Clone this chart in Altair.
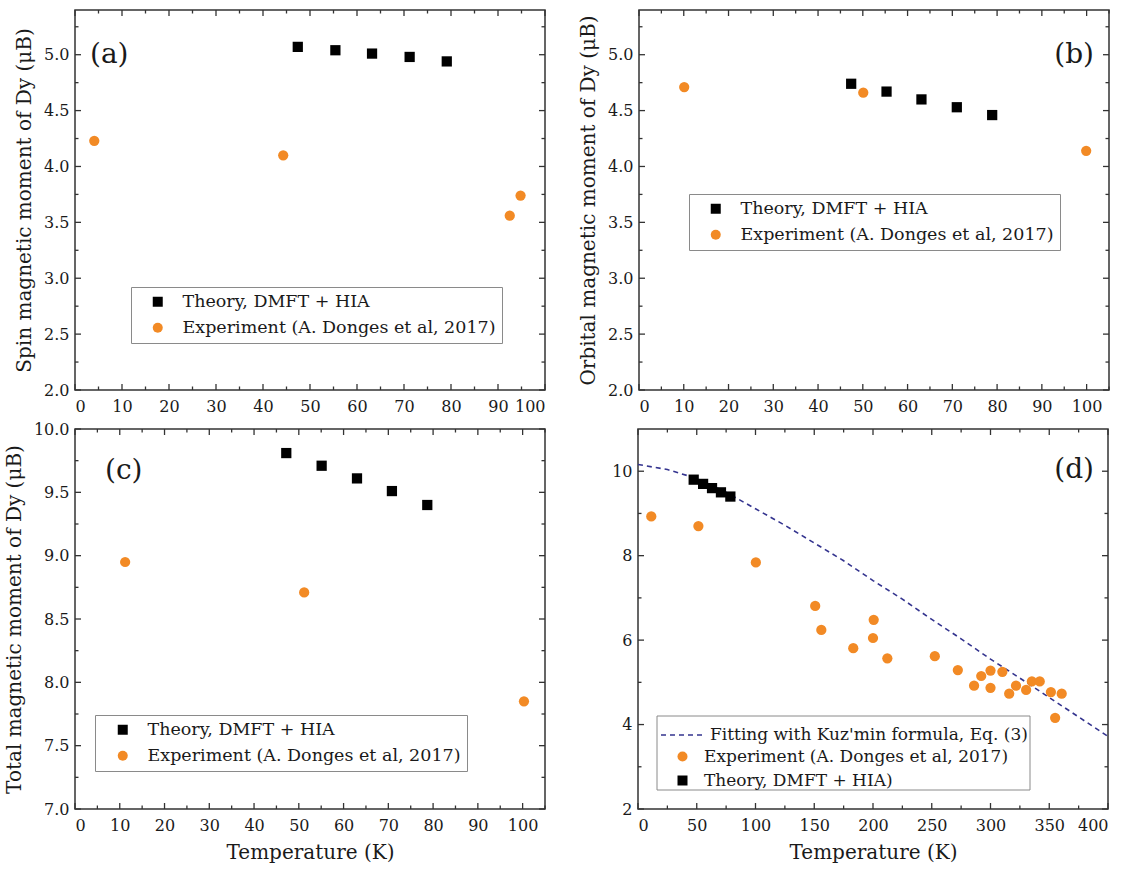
import altair as alt
import pandas as pd

FONT = "DejaVu Serif"
ORANGE = "#F28A25"
NAVY = "#34348F"
AXC = "#333333"
TXT = "#1a1a1a"
BOX = "#8a8a8a"

THEORY = "Theory, DMFT + HIA"
THEORY_D = "Theory, DMFT + HIA)"
EXP = "Experiment (A. Donges et al, 2017)"
FIT = "Fitting with Kuz'min formula, Eq. (3)"

# ---- panel (a): spin moment ----
a_theory_T = [47.4, 55.4, 63.2, 71.2, 79.1]
a_theory_M = [5.07, 5.04, 5.01, 4.98, 4.94]
a_exp_T = [4.1, 44.3, 92.5, 94.8]
a_exp_M = [4.23, 4.10, 3.56, 3.74]

# ---- panel (b): orbital moment ----
b_theory_T = [47.4, 55.3, 63.1, 71.0, 78.9]
b_theory_M = [4.74, 4.67, 4.60, 4.53, 4.46]
b_exp_T = [10.1, 50.1, 99.9]
b_exp_M = [4.71, 4.66, 4.14]

# ---- panel (c): total moment ----
c_theory_T = [47.2, 55.1, 63.0, 70.8, 78.7]
c_theory_M = [9.81, 9.71, 9.61, 9.51, 9.40]
c_exp_T = [11.2, 51.2, 100.3]
c_exp_M = [8.95, 8.71, 7.85]

# ---- panel (d): total moment vs T, wide range ----
d_theory_T = [47.4, 55.4, 63.0, 70.6, 78.6]
d_theory_M = [9.80, 9.70, 9.60, 9.50, 9.40]
d_exp_T = [11.3, 51.4, 100.3, 150.8, 156.0, 183.2, 200.6, 200.0, 212.2, 252.6,
           272.2, 286.0, 292.1, 300.0, 300.0, 310.1, 315.9, 321.7, 330.3, 335.2,
           341.9, 351.4, 360.6, 355.0]
d_exp_M = [8.93, 8.70, 7.84, 6.81, 6.24, 5.81, 6.48, 6.05, 5.57, 5.62,
           5.29, 4.92, 5.15, 5.28, 4.87, 5.25, 4.73, 4.92, 4.82, 5.02,
           5.02, 4.77, 4.73, 4.16]
d_fit_T = [0, 25, 50, 75, 100, 125, 150, 175, 200, 225, 250, 275, 300, 325, 350, 375, 400]
d_fit_M = [10.16, 10.04, 9.83, 9.50, 9.11, 8.72, 8.30, 7.88, 7.41, 6.97, 6.49, 6.03,
           5.55, 5.10, 4.64, 4.18, 3.72]

# ---- axis ticks ----
x100_major = [0, 10, 20, 30, 40, 50, 60, 70, 80, 90, 100]
x100_minor = [5, 15, 25, 35, 45, 55, 65, 75, 85, 95]
x105_minor = [5, 15, 25, 35, 45, 55, 65, 75, 85, 95, 105]
x400_major = [0, 50, 100, 150, 200, 250, 300, 350, 400]
x400_minor = [25, 75, 125, 175, 225, 275, 325, 375]
y_ab_major = [2.0, 2.5, 3.0, 3.5, 4.0, 4.5, 5.0]
y_ab_minor = [2.25, 2.75, 3.25, 3.75, 4.25, 4.75, 5.25]
y_c_major = [7.0, 7.5, 8.0, 8.5, 9.0, 9.5, 10.0]
y_c_minor = [7.25, 7.75, 8.25, 8.75, 9.25, 9.75]
y_d_major = [2, 4, 6, 8, 10]
y_d_minor = [3, 5, 7, 9]

W, H = 470, 380
MAJ, MIN = 6, 3.5
IND = dict(color="independent", shape="independent", strokeDash="independent")


def make_legend(x, y, pad, row, so, lo, stroke=BOX, size=None, fs=17.5):
    kw = dict(orient="none", legendX=x, legendY=y, title=None, padding=pad,
              rowPadding=row, symbolOffset=so, labelOffset=lo,
              labelFont=FONT, labelFontSize=fs, labelColor=TXT, labelLimit=600)
    if stroke:
        kw["strokeColor"] = stroke
        kw["fillColor"] = "white"
    if size:
        kw["symbolSize"] = size
    return alt.Legend(**kw)


def panel(series, dom, shapes, colors, xdom, xmaj, xmin, ydom, ymaj, ymin,
          yfmt, ytitle, xtitle, legend, label, lab_x, lab_y, lab_align,
          fit=None, fit_legend=None, box=None):
    rows = []
    for name, T, M in series:
        for t, m in zip(T, M):
            rows.append({"T": t, "M": m, "s": name})
    df = pd.DataFrame(rows)
    xs = alt.Scale(domain=xdom, nice=False, zero=False)
    ys = alt.Scale(domain=ydom, nice=False, zero=False)
    xaxis = alt.Axis(values=xmaj, format="d", ticks=False, domain=False, grid=False,
                     labelPadding=8, titlePadding=9)
    yaxis = alt.Axis(values=ymaj, format=yfmt, ticks=False, domain=False, grid=False,
                     labelPadding=6, titlePadding=9)

    def X(f):
        return alt.X(f, scale=xs, axis=xaxis, title=xtitle or "")

    def Y(f):
        return alt.Y(f, scale=ys, axis=yaxis, title=ytitle or "")

    layers = []
    if box is not None:
        bdf = pd.DataFrame({"b": [0]})
        layers.append(alt.Chart(bdf).mark_rect(fill="white", stroke=BOX, strokeWidth=1)
                      .encode(x=alt.value(box[0]), x2=alt.value(box[1]),
                              y=alt.value(box[2]), y2=alt.value(box[3])))
    if fit is not None:
        fdf = pd.DataFrame({"T": fit[0], "M": fit[1], "s": [FIT] * len(fit[0])})
        layers.append(alt.Chart(fdf).mark_line(strokeWidth=1.6).encode(
            x=X("T:Q"), y=Y("M:Q"),
            color=alt.Color("s:N", scale=alt.Scale(domain=[FIT], range=[NAVY]),
                            legend=fit_legend),
            strokeDash=alt.StrokeDash("s:N", scale=alt.Scale(domain=[FIT], range=[[5, 4]]),
                                      legend=fit_legend)))
    # inward frame ticks on all four sides
    for vals, L in ((xmaj, MAJ), (xmin, MIN)):
        tdf = pd.DataFrame({"v": vals})
        base = alt.Chart(tdf).mark_rule(color=AXC, strokeWidth=1.3)
        layers.append(base.encode(x=X("v:Q"), y=alt.value(H), y2=alt.value(H - L)))
        layers.append(base.encode(x=X("v:Q"), y=alt.value(0), y2=alt.value(L)))
    for vals, L in ((ymaj, MAJ), (ymin, MIN)):
        tdf = pd.DataFrame({"v": vals})
        base = alt.Chart(tdf).mark_rule(color=AXC, strokeWidth=1.3)
        layers.append(base.encode(y=Y("v:Q"), x=alt.value(0), x2=alt.value(L)))
        layers.append(base.encode(y=Y("v:Q"), x=alt.value(W), x2=alt.value(W - L)))
    pts = alt.Chart(df).mark_point(filled=True, opacity=1, size=105).encode(
        x=X("T:Q"), y=Y("M:Q"),
        shape=alt.Shape("s:N", scale=alt.Scale(domain=dom, range=shapes), legend=legend),
        color=alt.Color("s:N", scale=alt.Scale(domain=dom, range=colors), legend=legend))
    layers.append(pts)
    ldf = pd.DataFrame({"t": [label]})
    layers.append(alt.Chart(ldf).mark_text(font=FONT, fontSize=28, color=TXT,
                                           align=lab_align, baseline="middle")
                  .encode(text="t:N", x=alt.value(lab_x), y=alt.value(lab_y)))
    return (alt.layer(*layers).resolve_scale(**IND)
            .properties(width=W, height=H))


dom3 = [THEORY, EXP]
sh3 = ["square", "circle"]
co3 = ["black", ORANGE]

pa = panel([(THEORY, a_theory_T, a_theory_M), (EXP, a_exp_T, a_exp_M)],
           dom3, sh3, co3,
           [0, 100], x100_major, x100_minor, [2.0, 5.4], y_ab_major, y_ab_minor,
           ".1f", "Spin magnetic moment of Dy (μB)", None,
           make_legend(56, 277, 6, 7, 12, 16), "(a)", 15, 45, "left")

pb = panel([(THEORY, b_theory_T, b_theory_M), (EXP, b_exp_T, b_exp_M)],
           dom3, sh3, co3,
           [0, 105], x100_major, x105_minor, [2.0, 5.4], y_ab_major, y_ab_minor,
           ".1f", "Orbital magnetic moment of Dy (μB)", None,
           make_legend(50, 184, 6, 7, 12, 16), "(b)", 455, 45, "right")

pc = panel([(THEORY, c_theory_T, c_theory_M), (EXP, c_exp_T, c_exp_M)],
           dom3, sh3, co3,
           [0, 105], x100_major, x105_minor, [7.0, 10.0], y_c_major, y_c_minor,
           ".1f", "Total magnetic moment of Dy (μB)", "Temperature (K)",
           make_legend(20, 286, 6, 7, 13, 16), "(c)", 30, 42, "left")

pd_ = panel([(THEORY_D, d_theory_T, d_theory_M), (EXP, d_exp_T, d_exp_M)],
            [EXP, THEORY_D], ["circle", "square"], [ORANGE, "black"],
            [0, 400], x400_major, x400_minor, [2, 11], y_d_major, y_d_minor,
            "d", None, "Temperature (K)",
            make_legend(19, 316, 3, 6, 14, 13, stroke=None, fs=17), "(d)", 456, 41, "right",
            fit=(d_fit_T, d_fit_M),
            fit_legend=make_legend(19, 280, 3, 6, 0, 4, stroke=None, size=1936, fs=17),
            box=(19, 392, 287, 361))

row1 = alt.hconcat(pa, pb, spacing=30).resolve_scale(**IND)
row2 = alt.hconcat(pc, pd_, spacing=63).resolve_scale(**IND)
chart = (alt.vconcat(row1, row2, spacing=5).resolve_scale(**IND)
         .properties(padding={"left": 3, "top": 8, "right": 0, "bottom": 2},
                     background="white")
         .configure_view(stroke=AXC, strokeWidth=1.5)
         .configure_axis(labelFont=FONT, labelFontSize=16, labelColor=TXT,
                         titleFont=FONT, titleFontSize=20, titleFontWeight="normal",
                         titleColor=TXT))

chart.save("out.html", embed_options={"renderer": "svg", "actions": False})
